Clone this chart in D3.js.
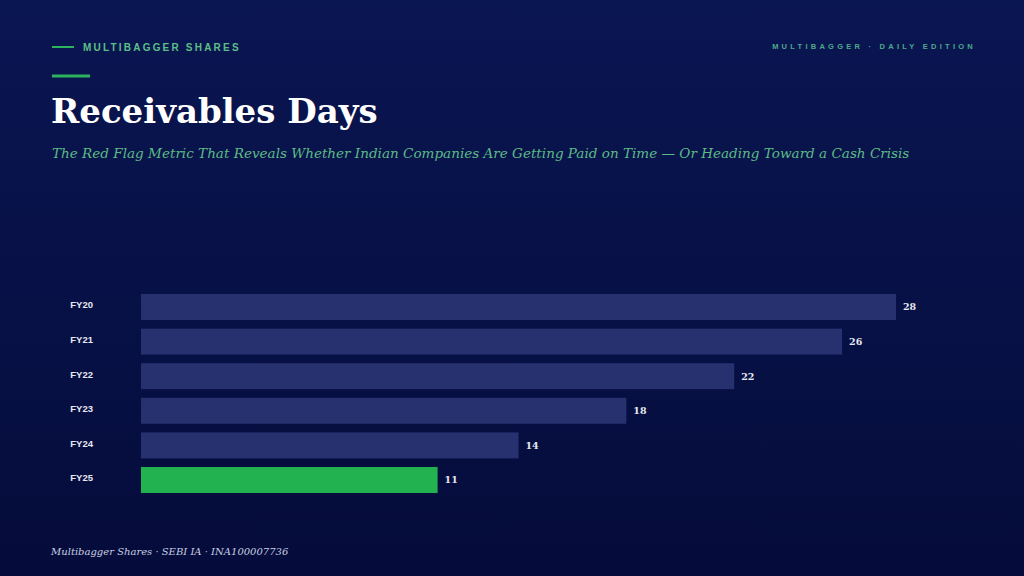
<!DOCTYPE html>
<html>
<head>
<meta charset="utf-8">
<script src="https://cdn.jsdelivr.net/npm/d3@7"></script>
<style>
  html, body { margin: 0; padding: 0; background: #07113f; }
  svg { display: block; }
</style>
</head>
<body>
<div id="chart"></div>
<script>
var svgWidth = 1024;
var svgHeight = 576;

// data
var years = ["FY20", "FY21", "FY22", "FY23", "FY24", "FY25"];
var receivableDays = [28, 26, 22, 18, 14, 11];
var highlightYear = "FY25";

var serif = "'DejaVu Serif', 'Liberation Serif', Georgia, serif";
var sans = "'Liberation Sans', Arial, Helvetica, sans-serif";

var svg = d3.select("#chart")
  .append("svg")
  .attr("width", svgWidth)
  .attr("height", svgHeight);

var defs = svg.append("defs");
var grad = defs.append("linearGradient")
  .attr("id", "bg")
  .attr("x1", 0).attr("y1", 0)
  .attr("x2", 0).attr("y2", 1);
grad.append("stop").attr("offset", "0%").attr("stop-color", "#0a1652");
grad.append("stop").attr("offset", "100%").attr("stop-color", "#050c3b");

svg.append("rect")
  .attr("width", svgWidth)
  .attr("height", svgHeight)
  .attr("fill", "url(#bg)");

// header
svg.append("line")
  .attr("x1", 52).attr("x2", 74)
  .attr("y1", 47).attr("y2", 47)
  .attr("stroke", "#2db35d")
  .attr("stroke-width", 2);

svg.append("text")
  .attr("x", 83)
  .attr("y", 50.5)
  .attr("fill", "#5cbf88")
  .style("font-family", sans)
  .style("font-weight", "bold")
  .style("font-size", "10px")
  .style("letter-spacing", "2.2px")
  .text("MULTIBAGGER SHARES");

svg.append("text")
  .attr("x", 976)
  .attr("y", 49)
  .attr("text-anchor", "end")
  .attr("fill", "#4fa98c")
  .style("font-family", sans)
  .style("font-weight", "bold")
  .style("font-size", "7.5px")
  .style("letter-spacing", "3.25px")
  .text("MULTIBAGGER · DAILY EDITION");

svg.append("line")
  .attr("x1", 52).attr("x2", 90)
  .attr("y1", 76).attr("y2", 76)
  .attr("stroke", "#2db35d")
  .attr("stroke-width", 3);

svg.append("text")
  .attr("x", 51)
  .attr("y", 123)
  .attr("fill", "#ffffff")
  .style("font-family", serif)
  .style("font-weight", "bold")
  .style("font-size", "34px")
  .text("Receivables Days");

svg.append("text")
  .attr("x", 52)
  .attr("y", 158)
  .attr("fill", "#5cbb85")
  .style("font-family", serif)
  .style("font-style", "italic")
  .style("font-size", "13.55px")
  .text("The Red Flag Metric That Reveals Whether Indian Companies Are Getting Paid on Time — Or Heading Toward a Cash Crisis");

// bars
var xScale = d3.scaleLinear()
  .domain([0, 28])
  .range([141, 896]);

var yScale = d3.scaleBand()
  .domain(years)
  .range([289.7, 497.3])
  .paddingInner(0.25)
  .paddingOuter(0.125);

var rows = years.map(function(y, i) {
  return { year: y, value: receivableDays[i] };
});

var chartGroup = svg.append("g");

chartGroup.selectAll("rect.bar")
  .data(rows)
  .enter()
  .append("rect")
  .attr("class", "bar")
  .attr("x", xScale(0))
  .attr("y", d => yScale(d.year))
  .attr("width", d => xScale(d.value) - xScale(0))
  .attr("height", yScale.bandwidth())
  .attr("fill", d => d.year === highlightYear ? "#22b24f" : "#27316f");

var yAxis = d3.axisLeft(yScale).tickSize(0).tickPadding(0);
var axisG = chartGroup.append("g")
  .attr("transform", "translate(93, 0)")
  .call(yAxis);
axisG.select(".domain").remove();
axisG.selectAll("text")
  .attr("text-anchor", "end")
  .attr("dy", "0.15em")
  .attr("fill", "#e6e8f2")
  .style("font-family", sans)
  .style("font-weight", "bold")
  .style("font-size", "9.5px");

chartGroup.selectAll("text.val")
  .data(rows)
  .enter()
  .append("text")
  .attr("class", "val")
  .attr("x", d => xScale(d.value) + 7)
  .attr("y", d => yScale(d.year) + yScale.bandwidth() / 2)
  .attr("dy", "0.35em")
  .attr("fill", "#e6e8f2")
  .style("font-family", serif)
  .style("font-weight", "bold")
  .style("font-size", "9.5px")
  .text(d => d.value);

// footer
svg.append("text")
  .attr("x", 51)
  .attr("y", 555)
  .attr("fill", "#c9cde2")
  .style("font-family", serif)
  .style("font-style", "italic")
  .style("font-size", "10px")
  .text("Multibagger Shares · SEBI IA · INA100007736");
</script>
</body>
</html>
